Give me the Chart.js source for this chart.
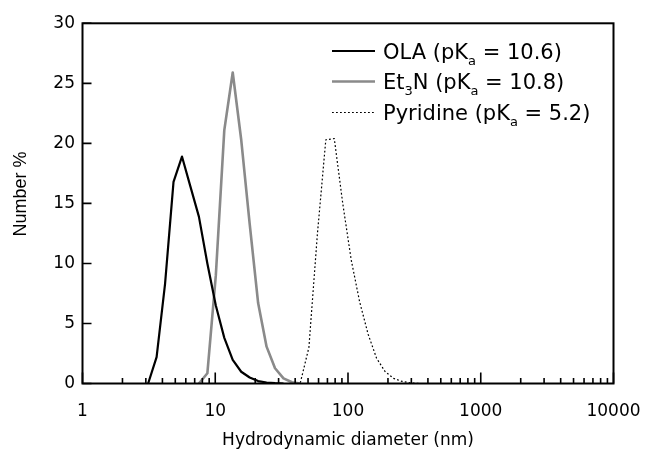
<!DOCTYPE html>
<html>
<head>
<meta charset="utf-8">
<script src="https://cdn.jsdelivr.net/npm/chart.js@4.4.1/dist/chart.umd.min.js"></script>
<style>
html,body{margin:0;padding:0;background:#fff;}
#wrap{width:646px;height:453px;position:relative;}
</style>
</head>
<body>
<div id="wrap"><canvas id="c" width="646" height="453"></canvas></div>
<script>
// ---- data ----
const olaSize     = [3.122, 3.615, 4.187, 4.849, 5.615, 6.503, 7.531, 8.721, 10.1, 11.7, 13.54, 15.69, 18.17, 21.04, 24.36, 28.21, 32.67];
const olaPercent  = [0, 2.2, 8.3, 16.8, 18.9, 16.4, 13.9, 10.0, 6.5, 3.8, 1.96, 0.98, 0.5, 0.2, 0.08, 0.03, 0];

const et3nSize    = [7.531, 8.721, 10.1, 11.7, 13.54, 15.69, 18.17, 21.04, 24.36, 28.21, 32.67, 37.84, 43.82];
const et3nPercent = [0, 0.85, 9.0, 21.1, 25.9, 20.3, 13.3, 6.7, 3.07, 1.27, 0.43, 0.1, 0];

const pyrSize     = [37.84, 43.82, 50.75, 58.77, 68.06, 78.82, 91.28, 105.7, 122.4, 141.8, 164.2, 190.1, 220.2, 255.0, 295.3, 342.0];
const pyrPercent  = [0, 0.1, 3.0, 12.4, 20.3, 20.4, 15.0, 10.3, 6.8, 4.1, 2.1, 1.0, 0.43, 0.18, 0.05, 0];

const xTickValues = [1, 10, 100, 1000, 10000];
const xTickLabels = ['1', '10', '100', '1000', '10000'];
const xMinorDecades = [1, 10, 100, 1000];
const xMinorFactors = [2, 3, 4, 5, 6, 7, 8, 9];
const yTickValues = [0, 5, 10, 15, 20, 25, 30];
const yTickLabels = ['0', '5', '10', '15', '20', '25', '30'];

const xTitle = 'Hydrodynamic diameter (nm)';
const yTitle = 'Number %';
// legend entries: [text, isSubscript]
const legendOLA  = [['OLA (pK', false], ['a', true], [' = 10.6)', false]];
const legendEt3N = [['Et', false], ['3', true], ['N (pK', false], ['a', true], [' = 10.8)', false]];
const legendPyr  = [['Pyridine (pK', false], ['a', true], [' = 5.2)', false]];

const toXY = (xs, ys) => xs.map((v, i) => ({x: v, y: ys[i]}));

const FONT = 'DejaVu Sans';

const datasets = [
  {label: 'OLA', data: toXY(olaSize, olaPercent), borderColor: '#000000', borderWidth: 2.2, legend: legendOLA},
  {label: 'Et3N', data: toXY(et3nSize, et3nPercent), borderColor: '#8a8a8a', borderWidth: 2.6, legend: legendEt3N},
  {label: 'Pyridine', data: toXY(pyrSize, pyrPercent), borderColor: '#000000', borderWidth: 1.2, borderDash: [1.8, 2.2], legend: legendPyr}
].map(d => Object.assign({pointRadius: 0, tension: 0, fill: false, borderJoinStyle: 'round'}, d));

const framePlugin = {
  id: 'frameTicks',
  afterDraw(chart) {
    const {ctx, chartArea: a, scales: {x, y}} = chart;
    ctx.save();
    ctx.strokeStyle = '#000';
    ctx.lineWidth = 2;
    ctx.strokeRect(a.left, a.top, a.right - a.left, a.bottom - a.top);
    ctx.lineWidth = 1.6;
    ctx.beginPath();
    xTickValues.forEach(v => {
      const p = x.getPixelForValue(v);
      ctx.moveTo(p, a.bottom); ctx.lineTo(p, a.bottom - 11);
    });
    xMinorDecades.forEach(d => xMinorFactors.forEach(f => {
      const p = x.getPixelForValue(d * f);
      ctx.moveTo(p, a.bottom); ctx.lineTo(p, a.bottom - 5.5);
    }));
    yTickValues.forEach(v => {
      const p = y.getPixelForValue(v);
      ctx.moveTo(a.left, p); ctx.lineTo(a.left + 9, p);
    });
    ctx.stroke();

    // y title
    ctx.fillStyle = '#000';
    ctx.save();
    ctx.translate(20.7, 194);
    ctx.rotate(-Math.PI / 2);
    ctx.font = '18px "Liberation Sans"';
    ctx.textAlign = 'center';
    ctx.textBaseline = 'middle';
    ctx.fillText(yTitle, 0, 0);
    ctx.restore();

    // legend
    const rowsBase = [58.5, 89, 120];
    chart.data.datasets.forEach((ds, i) => {
      const base = rowsBase[i];
      const ly = base - 7.5;
      ctx.save();
      ctx.strokeStyle = ds.borderColor;
      ctx.lineWidth = ds.borderWidth;
      ctx.setLineDash(ds.borderDash || []);
      ctx.beginPath();
      ctx.moveTo(332, ly); ctx.lineTo(375, ly);
      ctx.stroke();
      ctx.restore();
      let tx = 383;
      ctx.textAlign = 'left';
      ctx.textBaseline = 'alphabetic';
      ds.legend.forEach(([t, sub]) => {
        ctx.font = (sub ? '13px ' : '21px ') + '"' + FONT + '"';
        ctx.fillText(t, tx, sub ? base + 6 : base);
        tx += ctx.measureText(t).width;
      });
    });
    ctx.restore();
  }
};

new Chart(document.getElementById('c'), {
  type: 'line',
  data: {datasets},
  plugins: [framePlugin],
  options: {
    responsive: false,
    animation: false,
    devicePixelRatio: 1,
    layout: {padding: {left: 0, top: 23.3, right: 32.5, bottom: 0}},
    plugins: {legend: {display: false}, tooltip: {enabled: false}},
    scales: {
      x: {
        type: 'logarithmic',
        min: 1, max: 10000,
        grid: {display: false, drawTicks: false},
        border: {display: false},
        afterBuildTicks: s => { s.ticks = xTickValues.map(v => ({value: v})); },
        afterFit: s => { s.height = 69.5; s.paddingLeft = 0; s.paddingRight = 0; },
        ticks: {
          autoSkip: false, maxRotation: 0, padding: 17.5, color: '#000',
          font: {family: FONT, size: 17},
          callback: v => { const i = xTickValues.indexOf(v); return i >= 0 ? xTickLabels[i] : ''; }
        },
        title: {display: true, text: xTitle, color: '#000', font: {family: FONT, size: 17}, padding: {top: 0, bottom: 2}}
      },
      y: {
        min: 0, max: 30,
        grid: {display: false, drawTicks: false},
        border: {display: false},
        afterBuildTicks: s => { s.ticks = yTickValues.map(v => ({value: v})); },
        afterFit: s => { s.width = 82.5; s.paddingTop = 0; s.paddingBottom = 0; },
        ticks: {
          padding: 7.5, color: '#000',
          font: {family: FONT, size: 17},
          callback: v => { const i = yTickValues.indexOf(v); return i >= 0 ? yTickLabels[i] : ''; }
        }
      }
    }
  }
});
</script>
</body>
</html>
